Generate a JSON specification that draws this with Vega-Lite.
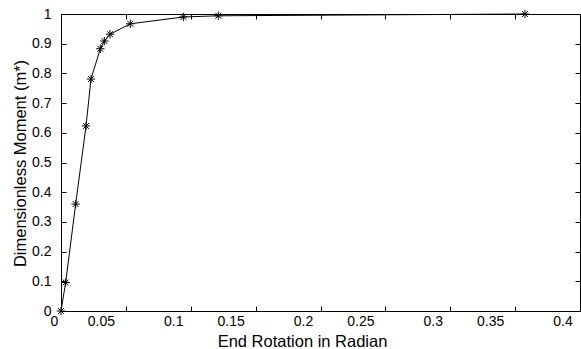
{
  "$schema": "https://vega.github.io/schema/vega-lite/v6.json",
  "width": 519,
  "height": 297,
  "autosize": {"type": "none"},
  "padding": {"left": 61, "top": 14, "right": 1, "bottom": 38},
  "background": "white",
  "config": {
    "view": {"stroke": "#000", "strokeWidth": 1},
    "font": "Liberation Sans",
    "axis": {
      "domainColor": "#000",
      "tickColor": "#000",
      "labelColor": "#000",
      "titleColor": "#000",
      "grid": false,
      "tickSize": -5,
      "labelFont": "Liberation Sans",
      "titleFont": "Liberation Sans",
      "titleFontWeight": "normal",
      "labelFontSize": 14,
      "titleFontSize": 16.5,
      "labelFlush": false,
      "labelOverlap": false
    }
  },
  "data": {
    "values": [
      {"rot": 0.0, "m": 0.0},
      {"rot": 0.0036, "m": 0.096},
      {"rot": 0.0113, "m": 0.36},
      {"rot": 0.0193, "m": 0.623},
      {"rot": 0.0231, "m": 0.781},
      {"rot": 0.0303, "m": 0.883},
      {"rot": 0.0334, "m": 0.909},
      {"rot": 0.0378, "m": 0.932},
      {"rot": 0.0534, "m": 0.967},
      {"rot": 0.0943, "m": 0.99},
      {"rot": 0.1212, "m": 0.994},
      {"rot": 0.3576, "m": 1.0}
    ]
  },
  "layer": [
    {
      "mark": {"type": "line", "color": "#000", "strokeWidth": 1, "clip": false},
      "encoding": {
        "x": {
          "field": "rot",
          "type": "quantitative",
          "scale": {"domain": [0, 0.4], "nice": false, "zero": false},
          "axis": {
            "orient": "bottom",
            "values": [0, 0.05, 0.1, 0.15, 0.2, 0.25, 0.3, 0.35, 0.4],
            "format": ".2~f",
            "labelPadding": 8,
            "labelOffset": {
              "condition": [
                {"test": "datum.value == 0", "value": -7},
                {"test": "round(datum.value * 100) % 10 == 5", "value": -25}
              ],
              "value": -17.5
            },
            "title": "End Rotation in Radian",
            "titleX": 241,
            "titleY": 35.5,
            "titleBaseline": "alphabetic",
            "titleAlign": "center"
          }
        },
        "y": {
          "field": "m",
          "type": "quantitative",
          "scale": {"domain": [0, 1], "nice": false, "zero": false},
          "axis": {
            "orient": "left",
            "values": [0, 0.1, 0.2, 0.3, 0.4, 0.5, 0.6, 0.7, 0.8, 0.9, 1],
            "format": ".1~f",
            "labelPadding": 15,
            "title": "Dimensionless Moment (m*)",
            "titleX": -41,
            "titleY": 149,
            "titleAngle": -90,
            "titleBaseline": "middle",
            "titleAlign": "center"
          }
        }
      }
    },
    {
      "mark": {
        "type": "point",
        "shape": "M-1,0L1,0M0,-1L0,1M-0.7,-0.7L0.7,0.7M-0.7,0.7L0.7,-0.7",
        "filled": false,
        "stroke": "#000",
        "strokeWidth": 1,
        "size": 70,
        "opacity": 1,
        "clip": false
      },
      "encoding": {
        "x": {
          "field": "rot",
          "type": "quantitative",
          "axis": {
            "orient": "top",
            "values": [0, 0.05, 0.1, 0.15, 0.2, 0.25, 0.3, 0.35, 0.4],
            "labels": false,
            "title": null
          }
        },
        "y": {
          "field": "m",
          "type": "quantitative",
          "axis": {
            "orient": "right",
            "values": [0, 0.1, 0.2, 0.3, 0.4, 0.5, 0.6, 0.7, 0.8, 0.9, 1],
            "labels": false,
            "title": null
          }
        }
      }
    }
  ],
  "resolve": {"axis": {"x": "independent", "y": "independent"}}
}
